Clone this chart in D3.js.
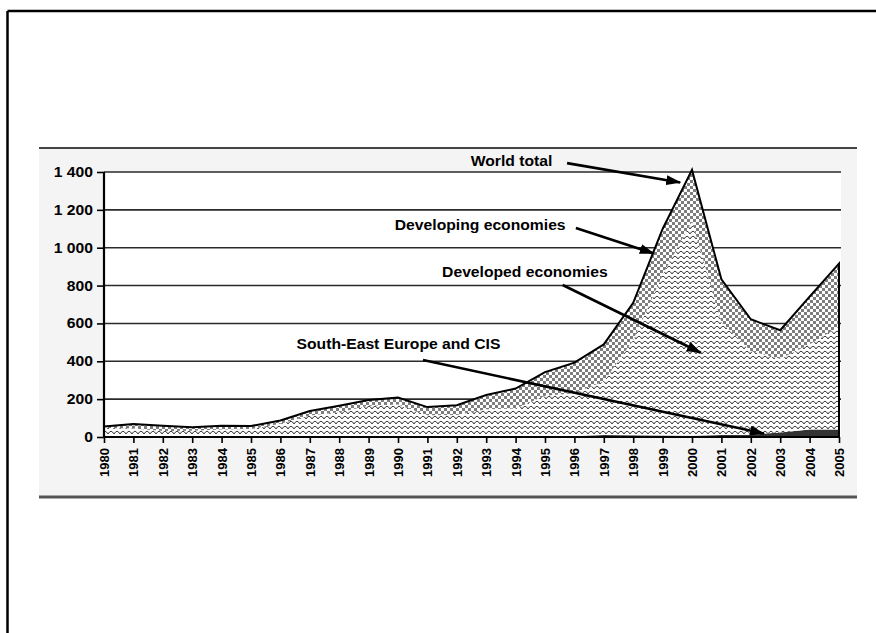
<!DOCTYPE html>
<html><head><meta charset="utf-8">
<script src="https://cdn.jsdelivr.net/npm/d3@7"></script>
<style>
html,body{margin:0;padding:0;background:#fff;}
svg{display:block;font-family:"Liberation Sans",Arial,sans-serif;font-weight:bold;}
</style>
</head><body>
<svg id="c" width="876" height="633"></svg>
<script>
// ---- data (billions of dollars) ----
const years = [1980,1981,1982,1983,1984,1985,1986,1987,1988,1989,1990,1991,1992,
               1993,1994,1995,1996,1997,1998,1999,2000,2001,2002,2003,2004,2005];
const seeCIS     = [0,0,0,0,0,0,0,0,0,0,0,0,2,2,2,4,5,11,9,8,7,10,12,24,40,40];
const developed  = [47,45,32,33,40,42,70,113,131,165,172,115,114,145,148,214,226,283,503,849,1134,596,442,390,450,542];
const developing = [8,24,27,18,20,16,17,24,34,30,36,43,52,75,106,125,162,195,197,242,270,227,168,150,252,334];
const yTicks = [0,200,400,600,800,1000,1200,1400];
const yTickLabels = ["0","200","400","600","800","1 000","1 200","1 400"];
const xTickLabels = years.map(String);

// annotations: label + arrow, anchored in data space (year, value)
const notes = [
  {text:"World total", tx:1995.25, ty:1458, anchor:"end",
   from:[1995.75,1447], to:[1999.6,1345]},
  {text:"Developing economies", tx:1995.7, ty:1120, anchor:"end",
   from:[1996.05,1104], to:[1998.7,970]},
  {text:"Developed economies", tx:1991.5, ty:872, anchor:"start",
   from:[1995.6,803], to:[2000.3,445]},
  {text:"South-East Europe and CIS", tx:1986.55, ty:491, anchor:"start",
   from:[1990.85,407], to:[2002.45,18]}
];

const svg = d3.select("#c");
const W = 876, H = 633;

// outer frame (top + left)
svg.append("line").attr("x1",7.5).attr("y1",11).attr("x2",W).attr("y2",11)
   .attr("stroke","#000").attr("stroke-width",2.5);
svg.append("line").attr("x1",7.5).attr("y1",11).attr("x2",7.5).attr("y2",H)
   .attr("stroke","#000").attr("stroke-width",2.5);

// chart panel
svg.append("rect").attr("x",39).attr("y",148).attr("width",818).attr("height",349)
   .attr("fill","#f4f4f4");
svg.append("line").attr("x1",39).attr("x2",857).attr("y1",148).attr("y2",148)
   .attr("stroke","#444").attr("stroke-width",2);
svg.append("line").attr("x1",39).attr("x2",857).attr("y1",497).attr("y2",497)
   .attr("stroke","#555").attr("stroke-width",3);

const x = d3.scaleLinear().domain([1980,2005]).range([104,839]);
const y = d3.scaleLinear().domain([0,1400]).range([437,172]);

// plot background
svg.append("rect").attr("x",x(1980)).attr("y",y(1400))
   .attr("width",x(2005)-x(1980)+2).attr("height",y(0)-y(1400)).attr("fill","#fff");

// patterns
const defs = svg.append("defs");
const chk = defs.append("pattern").attr("id","checker").attr("patternUnits","userSpaceOnUse")
   .attr("width",6).attr("height",6);
chk.append("rect").attr("width",6).attr("height",6).attr("fill","#fff");
chk.append("rect").attr("width",3).attr("height",3).attr("fill","#7d7d7d");
chk.append("rect").attr("x",3).attr("y",3).attr("width",3).attr("height",3).attr("fill","#7d7d7d");

const wav = defs.append("pattern").attr("id","wave").attr("patternUnits","userSpaceOnUse")
   .attr("width",6).attr("height",5);
wav.append("rect").attr("width",6).attr("height",5).attr("fill","#fff");
wav.append("path").attr("d","M0,4 L1.5,2 L3,1.2 L4.5,2 L6,4")
   .attr("fill","none").attr("stroke","#222").attr("stroke-width",0.9);

const mk = defs.append("marker").attr("id","ah").attr("markerUnits","userSpaceOnUse")
   .attr("markerWidth",15).attr("markerHeight",10).attr("refX",14).attr("refY",5)
   .attr("orient","auto");
mk.append("path").attr("d","M0,0 L15,5 L0,10 Z").attr("fill","#000");

// gridlines
svg.append("g").selectAll("line").data(yTicks.filter(d=>d>0)).join("line")
   .attr("x1",x(1980)).attr("x2",x(2005)+2)
   .attr("y1",d=>y(d)).attr("y2",d=>y(d))
   .attr("stroke","#2a2a2a").attr("stroke-width",1.6);

// stacked areas
const rows = years.map((yr,i)=>({year:yr, see:seeCIS[i], developed:developed[i], developing:developing[i]}));
const stack = d3.stack().keys(["see","developed","developing"]);
const series = stack(rows);
const area = d3.area().x(d=>x(d.data.year)).y0(d=>y(d[0])).y1(d=>y(d[1]));
const fills = {see:"#333", developed:"url(#wave)", developing:"url(#checker)"};
svg.append("g").selectAll("path").data(series).join("path")
   .attr("d",area).attr("fill",d=>fills[d.key]);

// world total outline
const topSeries = series[series.length-1];
const outline = d3.area().x(d=>x(d.data.year)).y0(y(0)).y1(d=>y(d[1]));
svg.append("path").attr("d",outline(topSeries)).attr("fill","none")
   .attr("stroke","#000").attr("stroke-width",2).attr("stroke-linejoin","miter");

// axes
const yAxis = svg.append("g").attr("transform",`translate(${x(1980)},0)`)
   .call(d3.axisLeft(y).tickValues(yTicks).tickSize(7).tickPadding(4)
         .tickFormat((d,i)=>yTickLabels[i]));
yAxis.select(".domain").attr("stroke","#000").attr("stroke-width",2.2).attr("d",`M0,${y(1400)}V${y(0)}`);
yAxis.selectAll(".tick line").attr("stroke","#000").attr("stroke-width",1.6);
yAxis.selectAll("text").attr("font-size",14).attr("font-family",'"Liberation Sans",Arial,sans-serif')
   .attr("font-weight","bold").attr("fill","#000");

const xAxis = svg.append("g").attr("transform",`translate(0,${y(0)})`)
   .call(d3.axisBottom(x).tickValues(years).tickSize(6).tickPadding(4)
         .tickFormat((d,i)=>xTickLabels[i]));
xAxis.select(".domain").attr("stroke","#000").attr("stroke-width",2.2).attr("d",`M${x(1980)},0H${x(2005)}`);
xAxis.selectAll(".tick line").attr("stroke","#000").attr("stroke-width",1.6);
xAxis.selectAll("text").attr("font-size",13).attr("font-family",'"Liberation Sans",Arial,sans-serif')
   .attr("font-weight","bold").attr("fill","#000")
   .attr("transform","rotate(-90)").attr("text-anchor","end")
   .attr("x",-11).attr("y",0).attr("dy","0.35em");

// stretch horizontal texts slightly to match the reference glyph widths
function stretch(sel, k){
  sel.each(function(){
    const L = this.getComputedTextLength();
    d3.select(this).attr("textLength",L*k).attr("lengthAdjust","spacingAndGlyphs");
  });
}
stretch(yAxis.selectAll("text"), 1.12);

// annotations
const ann = svg.append("g");
notes.forEach(n=>{
  ann.append("line").attr("x1",x(n.from[0])).attr("y1",y(n.from[1]))
     .attr("x2",x(n.to[0])).attr("y2",y(n.to[1]))
     .attr("stroke","#000").attr("stroke-width",2.6).attr("marker-end","url(#ah)");
  const t = ann.append("text").attr("x",x(n.tx)).attr("y",y(n.ty)).attr("dy","0.35em")
     .attr("text-anchor",n.anchor).attr("font-size",14).attr("fill","#000").text(n.text);
  stretch(t, 1.12);
});
</script>
</body></html>
